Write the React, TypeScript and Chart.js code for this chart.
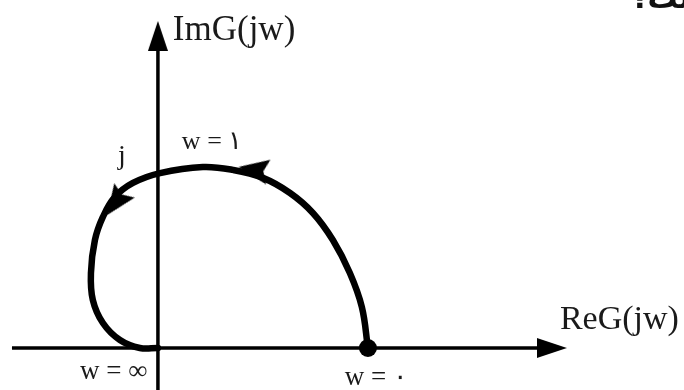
import React, { useEffect, useRef } from "react";
import { Chart, registerables } from "chart.js";

Chart.register(...registerables);

// Nyquist locus G(jw) (unit: distance from origin to w = 0 point)
const curveRe = [1.0, 0.971, 0.914, 0.833, 0.738, 0.629, 0.5, 0.357, 0.214, 0.01, -0.119, -0.205, -0.262, -0.3, -0.319, -0.31, -0.262, -0.181, -0.086, 0];
const curveIm = [0, 0.195, 0.357, 0.514, 0.643, 0.738, 0.81, 0.848, 0.862, 0.833, 0.786, 0.719, 0.624, 0.514, 0.357, 0.229, 0.119, 0.038, 0, 0];

// axes extents
const realAxisRe = [-0.695, 1.843];
const imagAxisIm = [-0.21, 1.443];

// arrowheads
const axisArrowRe = [1.876, 0];
const axisArrowIm = [0, 1.486];
const axisArrowDir = [90, 0];
const curveArrowRe = [0.455, -0.2];
const curveArrowIm = [0.85, 0.692];
const curveArrowDir = [280, 215];

// w = 0 start point
const startRe = [1];
const startIm = [0];

// labels
const labelTexts = ["ImG(jw)", "ReG(jw)", "w = ۱", "j", "w = ∞", "w = ۰"];
const labelRe = [0.071, 1.914, 0.114, -0.19, -0.371, 0.89];
const labelIm = [1.467, 0.09, 0.948, 0.876, -0.148, -0.176];
const labelSize = [35, 34, 26, 28, 27, 27];

const cornerText = "است؟";

function makeArrow(len: number, wid: number, notch: number) {
  const c = document.createElement("canvas");
  c.width = wid;
  c.height = len;
  const g = c.getContext("2d")!;
  g.fillStyle = "#000";
  g.beginPath();
  g.moveTo(wid / 2, 0);
  g.lineTo(wid, len);
  g.lineTo(wid / 2, len - notch);
  g.lineTo(0, len);
  g.closePath();
  g.fill();
  return c;
}

const labelPlugin = {
  id: "labels",
  afterDatasetsDraw(chart: any) {
    const { ctx, scales } = chart;
    ctx.save();
    ctx.fillStyle = "#1a1a1a";
    ctx.textBaseline = "alphabetic";
    ctx.textAlign = "left";
    labelTexts.forEach((t, i) => {
      ctx.font = `${labelSize[i]}px "Liberation Serif", "DejaVu Serif", serif`;
      const x = scales.x.getPixelForValue(labelRe[i]);
      const y = scales.y.getPixelForValue(labelIm[i]);
      ctx.fillText(t, x, y);
    });
    ctx.font = `bold 30px "DejaVu Sans", sans-serif`;
    ctx.fillStyle = "#111";
    ctx.fillText(cornerText, 630, 8);
    ctx.restore();
  },
};

export default function App() {
  const ref = useRef<HTMLCanvasElement>(null);
  useEffect(() => {
    const canvas = ref.current!;
    const axisArrow = makeArrow(30, 20, 0);
    const curveArrow = makeArrow(30, 25, 5);
    const chart = new Chart(canvas, {
      type: "scatter",
      data: {
        datasets: [
          {
            data: realAxisRe.map((x) => ({ x, y: 0 })),
            showLine: true,
            borderColor: "#000",
            borderWidth: 3.5,
            pointRadius: 0,
          },
          {
            data: imagAxisIm.map((y) => ({ x: 0, y })),
            showLine: true,
            borderColor: "#000",
            borderWidth: 3.5,
            pointRadius: 0,
          },
          {
            data: curveRe.map((x, i) => ({ x, y: curveIm[i] })),
            showLine: true,
            borderColor: "#000",
            borderWidth: 6.5,
            tension: 0.4,
            pointRadius: 0,
            borderCapStyle: "round",
          } as any,
          {
            data: startRe.map((x, i) => ({ x, y: startIm[i] })),
            pointRadius: 9,
            pointBackgroundColor: "#000",
            pointBorderWidth: 0,
          },
          {
            data: axisArrowRe.map((x, i) => ({ x, y: axisArrowIm[i] })),
            pointStyle: axisArrow as any,
            pointRotation: axisArrowDir,
            pointRadius: 10,
          } as any,
          {
            data: curveArrowRe.map((x, i) => ({ x, y: curveArrowIm[i] })),
            pointStyle: curveArrow as any,
            pointRotation: curveArrowDir,
            pointRadius: 10,
          } as any,
        ],
      },
      options: {
        animation: false,
        responsive: false,
        events: [],
        layout: { padding: 0, autoPadding: false },
        plugins: { legend: { display: false }, tooltip: { enabled: false } },
        scales: {
          x: { type: "linear", min: -0.752, max: 2.505, display: false },
          y: { type: "linear", min: -0.2, max: 1.657, display: false },
        },
      },
      plugins: [labelPlugin],
    });
    return () => chart.destroy();
  }, []);
  return (
    <div style={{ position: "fixed", left: 0, top: 0, width: 684, height: 390, background: "#fff" }}>
      <canvas ref={ref} width={684} height={390} />
    </div>
  );
}
